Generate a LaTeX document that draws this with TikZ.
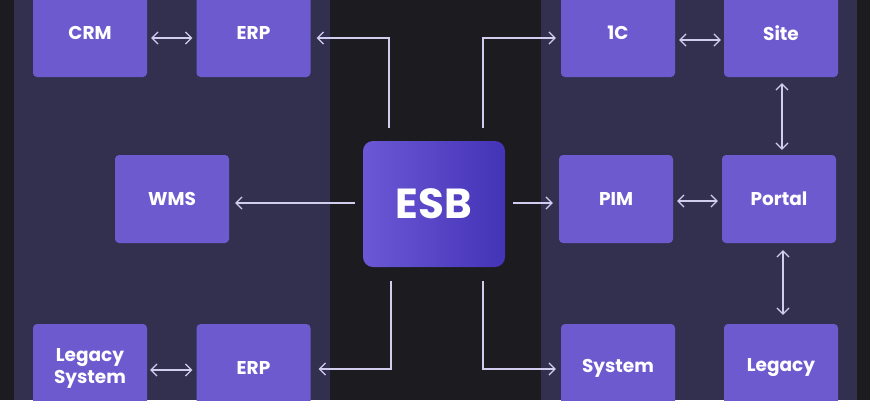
\documentclass[tikz,border=0pt]{standalone}
\usepackage{fontspec}
\setmainfont{Poppins}
\usetikzlibrary{arrows.meta,calc}
\definecolor{bg}{HTML}{1C1B1F}
\definecolor{panel}{HTML}{33304F}
\definecolor{boxc}{HTML}{6E5ACF}
\definecolor{ln}{HTML}{D2CDEF}
\definecolor{esbl}{HTML}{6C58D6}
\definecolor{esbr}{HTML}{4333B6}
\begin{document}
\begin{tikzpicture}[x=1pt,y=-1pt,
  sysbox/.style={fill=boxc, rounded corners=4pt, minimum width=114pt, minimum height=88pt,
    inner sep=0pt, text=white, font=\fontsize{18.5}{22}\selectfont\bfseries, align=center},
  tip/.tip={Straight Barb[length=6pt,width=12pt]},
  arr/.style={draw=ln, line width=1.2pt, -tip},
  biarr/.style={draw=ln, line width=1.2pt, tip-tip}]
\useasboundingbox (0,0) rectangle (870,400);
\clip (0,0) rectangle (870,400);
\fill[bg] (0,0) rectangle (870,400);
\fill[panel] (14,0) rectangle (330,400);
\fill[panel] (541,0) rectangle (857,400);

\node[sysbox] (crm) at (90,33) {CRM};
\node[sysbox] (erp1) at (253.5,33) {ERP};
\node[sysbox] (wms) at (172,199) {WMS};
\node[sysbox] (ls) at (90,368) {Legacy\\System};
\node[sysbox] (erp2) at (253.5,368) {ERP};
\node[sysbox] (c1) at (618,33) {1C};
\node[sysbox] (site) at (781,33) {Site};
\node[sysbox] (pim) at (616,199) {PIM};
\node[sysbox] (portal) at (779,199) {Portal};
\node[sysbox] (sys) at (618,368) {System};
\node[sysbox] (legacy) at (781,368) {Legacy};

\node[rounded corners=10pt, left color=esbl, right color=esbr, minimum width=142pt,
  minimum height=126pt, inner sep=0pt, text=white,
  font=\fontsize{42}{48}\selectfont\bfseries] (esb) at (434,204) {ESB};

\coordinate (tl) at (389,128);
\coordinate (tr) at (483,128);
\coordinate (bl) at (391,281);
\coordinate (br) at (483,281);

\draw[biarr] ($(crm.east)+(4,5)$) -- ($(erp1.west)+(-4,5)$);
\draw[arr] (tl) |- ($(erp1.east)+(6,5)$);
\draw[arr] (tr) |- ($(c1.west)+(-5,5)$);
\draw[biarr] ($(c1.east)+(4,7)$) -- ($(site.west)+(-3,7)$);
\draw[biarr] ($(site.south)+(1,6)$) -- ($(site.south |- portal.north)+(1,-5)$);
\draw[biarr] ($(pim.east)+(4,2)$) -- ($(portal.west)+(-4,2)$);
\draw[arr] ($(esb.west)+(-8,-1)$) -- ($(wms.east)+(6,4)$);
\draw[arr] ($(esb.east)+(8,-1)$) -- ($(pim.west)+(-6,4)$);
\draw[biarr] ($(portal.south)+(4,7)$) -- ($(portal.south |- legacy.north)+(4,-9)$);
\draw[arr] (bl) |- ($(erp2.east)+(8,1)$);
\draw[arr] (br) |- ($(sys.west)+(-5,1)$);
\draw[biarr] ($(ls.east)+(3,2)$) -- ($(erp2.west)+(-4,2)$);
\end{tikzpicture}
\end{document}
